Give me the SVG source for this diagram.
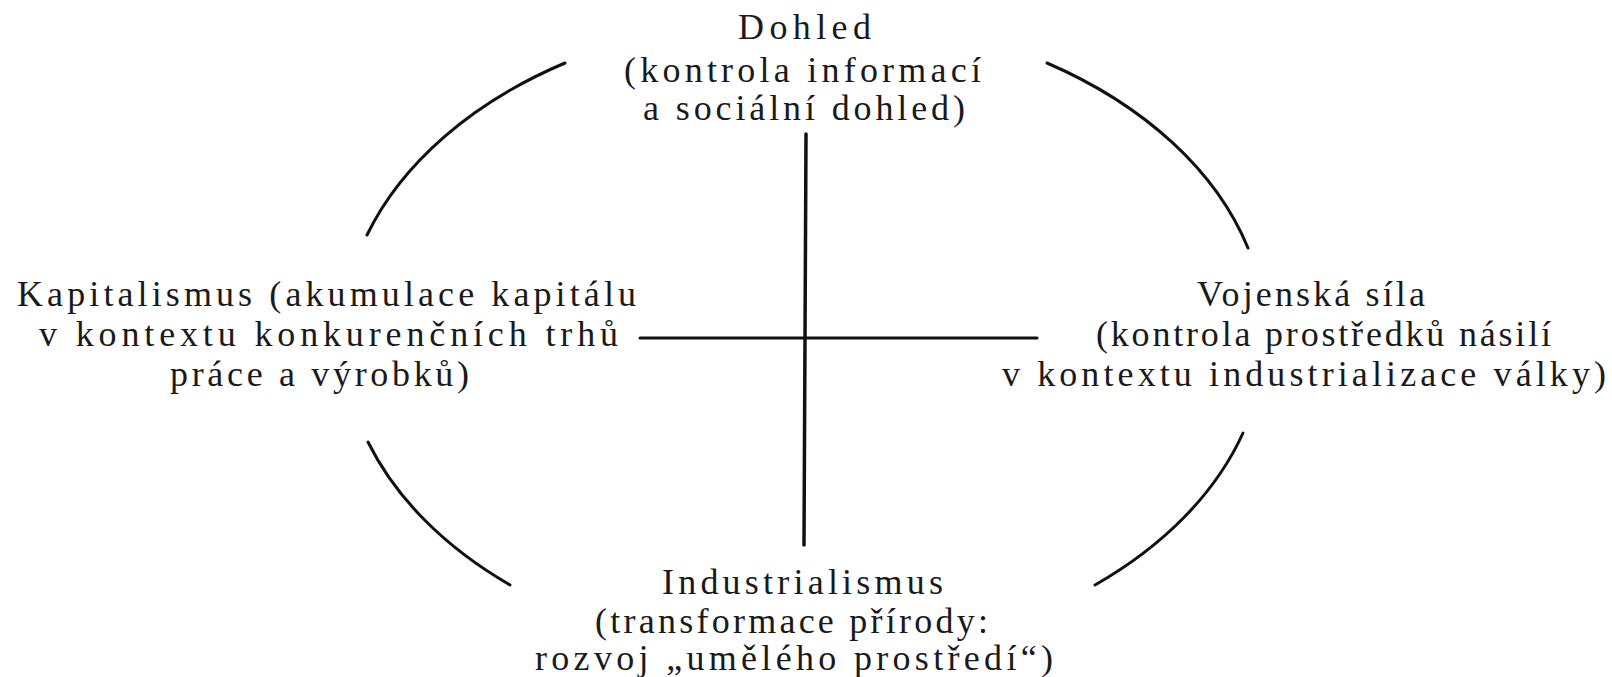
<svg xmlns="http://www.w3.org/2000/svg" width="1612" height="677" viewBox="0 0 1612 677">
<style>
.t{font-family:"Liberation Serif","DejaVu Serif",serif;font-size:36px;fill:#1a1a1a}
.ln{fill:none;stroke:#111;stroke-width:3;stroke-linecap:round}
</style>
<rect width="1612" height="677" fill="#ffffff"/>
<g id="connectors">
<path class="ln" d="M 367 235 A 462 322 0 0 1 565 63"/>
<path class="ln" d="M 1047 63 A 462 322 0 0 1 1248 248"/>
<path class="ln" d="M 1243 433 A 462 322 0 0 1 1095 585"/>
<path class="ln" d="M 510 585 A 462 322 0 0 1 368 442"/>
<path class="ln" d="M 806 134 L 804 545" style="stroke-width:3.5"/>
<path class="ln" d="M 640 338 L 1037 338"/>
</g>
<g id="dohled">
<text class="t" x="738" y="39" textLength="133" lengthAdjust="spacing">Dohled</text>
<text class="t" x="624" y="82" textLength="357" lengthAdjust="spacing">(kontrola informací</text>
<text class="t" x="643" y="120" textLength="322" lengthAdjust="spacing">a sociální dohled)</text>
</g>
<g id="kapitalismus">
<text class="t" x="17" y="306" textLength="619" lengthAdjust="spacing">Kapitalismus (akumulace kapitálu</text>
<text class="t" x="39" y="346" textLength="579" lengthAdjust="spacing">v kontextu konkurenčních trhů</text>
<text class="t" x="170" y="386" textLength="299" lengthAdjust="spacing">práce a výrobků)</text>
</g>
<g id="vojenska-sila">
<text class="t" x="1197" y="306" textLength="228" lengthAdjust="spacing">Vojenská síla</text>
<text class="t" x="1096" y="346" textLength="455" lengthAdjust="spacing">(kontrola prostředků násilí</text>
<text class="t" x="1002" y="386" textLength="604" lengthAdjust="spacing">v kontextu industrializace války)</text>
</g>
<g id="industrialismus">
<text class="t" x="662" y="594" textLength="281" lengthAdjust="spacing">Industrialismus</text>
<text class="t" x="595" y="633" textLength="393" lengthAdjust="spacing">(transformace přírody:</text>
<text class="t" x="535" y="670" textLength="518" lengthAdjust="spacing">rozvoj „umělého prostředí“)</text>
</g>
</svg>
